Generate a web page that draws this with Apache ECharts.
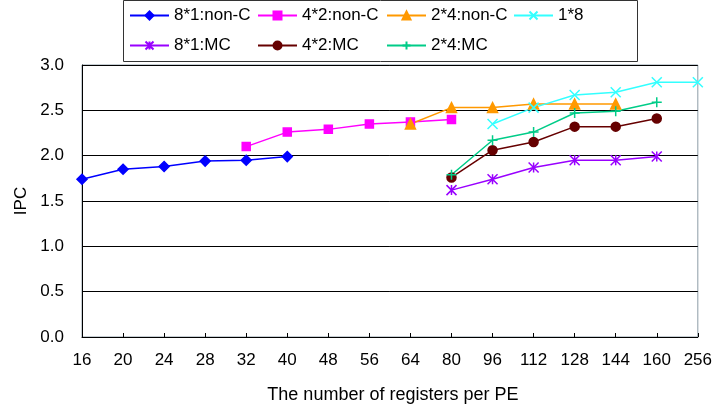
<!DOCTYPE html>
<html>
<head>
<meta charset="utf-8">
<script src="https://cdn.jsdelivr.net/npm/echarts@6/dist/echarts.min.js"></script>
<style>
  html, body { margin: 0; padding: 0; background: #fff; }
  #chart { width: 715px; height: 410px; }
</style>
</head>
<body>
<div id="chart"></div>
<script>
// 数据：横轴为每个PE的寄存器数
var registers = ['16', '20', '24', '28', '32', '40', '48', '56', '64', '80', '96', '112', '128', '144', '160', '256'];
var yTicks = [0, 0.5, 1.0, 1.5, 2.0, 2.5, 3.0];

var nonC81 = [1.74, 1.85, 1.88, 1.94, 1.95, 1.99, null, null, null, null, null, null, null, null, null, null];
var nonC42 = [null, null, null, null, 2.10, 2.26, 2.29, 2.35, 2.37, 2.40, null, null, null, null, null, null];
var nonC24 = [null, null, null, null, null, null, null, null, 2.35, 2.53, 2.53, 2.57, 2.57, 2.57, null, null];
var one8 = [null, null, null, null, null, null, null, null, null, null, 2.35, 2.53, 2.67, 2.70, 2.81, 2.81];
var mc81 = [null, null, null, null, null, null, null, null, null, 1.62, 1.74, 1.87, 1.95, 1.95, 1.99, null];
var mc42 = [null, null, null, null, null, null, null, null, null, 1.76, 2.06, 2.15, 2.32, 2.32, 2.41, null];
var mc24 = [null, null, null, null, null, null, null, null, null, 1.79, 2.17, 2.26, 2.47, 2.49, 2.59, null];

var FONT = 'Liberation Sans, Arial, sans-serif';

var seriesDefs = [
    {name: '8*1:non-C', data: nonC81, color: '#0000FF', symbol: 'diamond', size: 10},
    {name: '4*2:non-C', data: nonC42, color: '#FF00FF', symbol: 'rect', size: 8},
    {name: '2*4:non-C', data: nonC24, color: '#FF9900', symbol: 'triangle', size: 10},
    {name: '1*8', data: one8, color: '#33FFFF', symbol: 'path://M0,0L10,10M10,0L0,10', size: 10},
    {name: '8*1:MC', data: mc81, color: '#9900FF', symbol: 'path://M0,0L10,10M10,0L0,10M5,0L5,10', size: 10},
    {name: '4*2:MC', data: mc42, color: '#660000', symbol: 'circle', size: 9},
    {name: '2*4:MC', data: mc24, color: '#00CC88', symbol: 'path://M5,0L5,10M0,5L10,5', size: 10}
];

// 图例位置：两行四列
var legendPos = [[129, 7], [257, 7], [386, 7], [513, 7], [129, 37], [257, 37], [386, 37]];

var chart = echarts.init(document.getElementById('chart'));

var option = {
    animation: false,
    backgroundColor: '#fff',
    grid: {
        left: 82,
        right: 14,
        top: 65,
        bottom: 73,
        show: true,
        borderColor: '#8c9ca6',
        borderWidth: 1
    },
    legend: seriesDefs.map(function (s, i) {
        return {
            data: [s.name],
            left: legendPos[i][0],
            top: legendPos[i][1],
            padding: 0,
            itemWidth: 39,
            itemHeight: 10,
            textStyle: {color: '#000', fontSize: 17, fontFamily: FONT}
        };
    }),
    graphic: [{
        type: 'rect',
        shape: {x: 123.5, y: 0.5, width: 514, height: 61},
        style: {fill: 'none', stroke: '#333', lineWidth: 1},
        z: -1
    }],
    xAxis: {
        type: 'category',
        data: registers,
        boundaryGap: false,
        name: 'The number of registers per PE',
        nameLocation: 'middle',
        nameGap: 49,
        nameTextStyle: {color: '#000', fontSize: 18, fontFamily: FONT, padding: [0, 0, 0, 6]},
        axisLine: {lineStyle: {color: '#000', width: 1}},
        axisTick: {show: true, inside: true, length: 4, lineStyle: {color: '#000'}},
        axisLabel: {color: '#000', fontSize: 17, fontFamily: FONT, margin: 15, interval: 0},
        splitLine: {show: false}
    },
    yAxis: {
        type: 'value',
        min: yTicks[0],
        max: yTicks[yTicks.length - 1],
        interval: 0.5,
        name: 'IPC',
        nameLocation: 'middle',
        nameGap: 48,
        nameRotate: 90,
        nameTextStyle: {color: '#000', fontSize: 17, fontFamily: FONT},
        axisLine: {show: true, lineStyle: {color: '#000', width: 1}},
        axisTick: {show: false},
        axisLabel: {
            color: '#000', fontSize: 17, fontFamily: FONT, margin: 18,
            formatter: function (v) { return v.toFixed(1); }
        },
        splitLine: {show: true, lineStyle: {color: '#000', width: 1}}
    },
    series: seriesDefs.map(function (s) {
        return {
            name: s.name,
            type: 'line',
            data: s.data,
            symbol: s.symbol,
            symbolSize: s.size,
            showAllSymbol: true,
            lineStyle: {color: s.color, width: 1.5},
            itemStyle: {color: s.color, borderColor: s.color, borderWidth: 1.5}
        };
    })
};

chart.setOption(option);
</script>
</body>
</html>
